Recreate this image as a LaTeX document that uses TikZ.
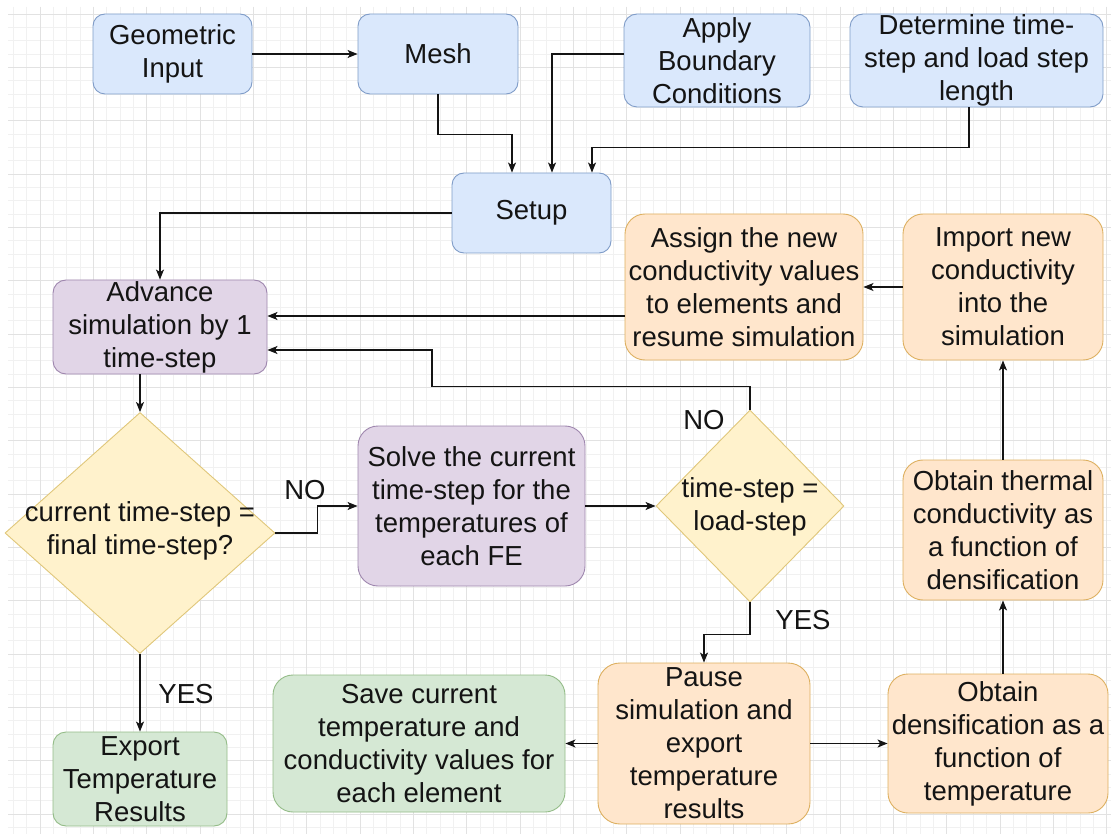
\documentclass[tikz,border=0pt]{standalone}
\usepackage{fontspec}
\setmainfont{Liberation Sans}
\usetikzlibrary{shapes.geometric,arrows.meta}
\definecolor{bluefill}{HTML}{DAE8FC}
\definecolor{bluedraw}{HTML}{7F9CC8}
\definecolor{purplefill}{HTML}{E1D5E7}
\definecolor{purpledraw}{HTML}{9E86AE}
\definecolor{orangefill}{HTML}{FFE6CC}
\definecolor{orangedraw}{HTML}{DDB060}
\definecolor{yellowfill}{HTML}{FFF2CC}
\definecolor{yellowdraw}{HTML}{E0C77A}
\definecolor{greenfill}{HTML}{D5E8D4}
\definecolor{greendraw}{HTML}{94BC88}
\definecolor{gridmajor}{HTML}{E2E2E2}
\definecolor{gridminor}{HTML}{F1F1F1}
\definecolor{inkcol}{HTML}{141414}
\begin{document}
\begin{tikzpicture}[x=1pt,y=-1pt,
  every node/.style={text=inkcol},
  box/.style={draw, line width=0.9pt, inner sep=0pt, align=center,
    font=\fontsize{27.5}{33}\selectfont},
  bluebox/.style={box, fill=bluefill, draw=bluedraw},
  purplebox/.style={box, fill=purplefill, draw=purpledraw},
  orangebox/.style={box, fill=orangefill, draw=orangedraw},
  greenbox/.style={box, fill=greenfill, draw=greendraw},
  dia/.style={shape=diamond, draw=yellowdraw, fill=yellowfill, line width=0.9pt, inner sep=0pt},
  txt/.style={inner sep=0pt, align=center, font=\fontsize{27.5}{33}\selectfont},
  arr/.style={draw=inkcol, line width=1.1pt, -{Stealth[length=10pt,width=8pt,inset=2.5pt]}},
  gmin/.style={draw=gridminor, line width=0.6pt},
  gmaj/.style={draw=gridmajor, line width=0.7pt}
]
\useasboundingbox (0,0) rectangle (1111,834);
\fill[white] (0,0) rectangle (1111,834);
% grid
\foreach \i in {-2,...,80} {\draw[gmin] ({40+\i*13.3333},7) -- ({40+\i*13.3333},834);}
\foreach \j in {0,...,61} {\draw[gmin] (8,{14+\j*13.3333}) -- (1111,{14+\j*13.3333});}
\foreach \i in {0,...,20} {\draw[gmaj] ({40+\i*53.3333},7) -- ({40+\i*53.3333},834);}
\foreach \j in {0,...,15} {\draw[gmaj] (8,{14+\j*53.3333}) -- (1111,{14+\j*53.3333});}

% nodes
\node[bluebox, rounded corners=12pt, minimum width=159pt, minimum height=80pt] (geo) at (172.5,54) {Geometric\\Input};
\node[bluebox, rounded corners=12pt, minimum width=160pt, minimum height=80pt] (mesh) at (438,54) {Mesh};
\node[bluebox, rounded corners=13pt, minimum width=186pt, minimum height=93pt] (apply) at (717,60.5) {Apply\\Boundary\\Conditions};
\node[bluebox, rounded corners=13pt, minimum width=253pt, minimum height=93pt] (det) at (976.5,60.5) {Determine time-\\step and load step\\length};
\node[bluebox, rounded corners=12pt, minimum width=159pt, minimum height=80pt] (setup) at (531.5,213) {Setup};
\node[purplebox, rounded corners=13pt, minimum width=214pt, minimum height=94pt] (adv) at (160,327) {Advance\\simulation by 1\\time-step};
\node[orangebox, rounded corners=20pt, minimum width=238pt, minimum height=146pt] (assign) at (744,287) {Assign the new\\conductivity values\\to elements and\\resume simulation};
\node[orangebox, rounded corners=20pt, minimum width=200pt, minimum height=146pt] (import) at (1003,287) {Import new\\conductivity\\into the\\simulation};
\node[dia, minimum width=270pt, minimum height=241pt] (d1) at (140,533) {};
\node[txt] (d1t) at (140,531) {current time-step =\\final time-step?};
\node[purplebox, rounded corners=20pt, minimum width=227pt, minimum height=160pt] (solve) at (471.5,506) {Solve the current\\time-step for the\\temperatures of\\each FE};
\node[dia, minimum width=188pt, minimum height=192pt] (d2) at (750,506) {};
\node[txt] (d2t) at (750,507) {time-step =\\load-step};
\node[orangebox, rounded corners=20pt, minimum width=200pt, minimum height=140pt] (therm) at (1003,530) {Obtain thermal\\conductivity as\\a function of\\densification};
\node[greenbox, rounded corners=13pt, minimum width=174pt, minimum height=94pt] (export) at (140,779) {Export\\Temperature\\Results};
\node[greenbox, rounded corners=20pt, minimum width=292pt, minimum height=137pt] (save) at (419,743.5) {Save current\\temperature and\\conductivity values for\\each element};
\node[orangebox, rounded corners=22pt, minimum width=212pt, minimum height=161pt] (pause) at (704,743.5) {Pause\\simulation and\\export\\temperature\\results};
\node[orangebox, rounded corners=20pt, minimum width=220pt, minimum height=139pt] (dens) at (998,743.5) {Obtain\\densification as a\\function of\\temperature};

% labels
\node[txt] (no1) at (305,490) {NO};
\node[txt] (yes1) at (186,694) {YES};
\node[txt] (no2) at (704,420) {NO};
\node[txt] (yes2) at (803,620) {YES};

% connectors
\draw[arr] (geo) -- (mesh);
\draw[arr] (mesh.south) -- ++(0,40) -| ([xshift=-19.5pt]setup.north);
\draw[arr] ([yshift=6.5pt]apply.west) -| ([xshift=20.5pt]setup.north);
\draw[arr] ([xshift=-7.5pt]det.south) -- ++(0,40) -| ([xshift=60.5pt]setup.north);
\draw[arr] (setup.west) -| (adv.north);
\draw[arr] (d1.north |- adv.south) -- (d1.north);
\draw[arr] (d1.east) -- ++(42,0) |- (solve.west);
\draw[arr] (d1.south) -- (export.north);
\draw[arr] (solve.east) -- (d2.west);
\draw[arr] (d2.north) -- ++(0,-23) -- ++(-318,0) |- ([yshift=-23pt]adv.east);
\draw[arr] (d2.south) -- ++(0,32) -| (pause.north);
\draw[arr] (pause.west) -- (save.east);
\draw[arr] (pause.east) -- (dens.west);
\draw[arr] (therm.south |- dens.north) -- (therm.south);
\draw[arr] (therm.north) -- (import.south);
\draw[arr] (import.west) -- (assign.east);
\draw[arr] ([yshift=-29pt]assign.west) -- ([yshift=11pt]adv.east);
\end{tikzpicture}
\end{document}
